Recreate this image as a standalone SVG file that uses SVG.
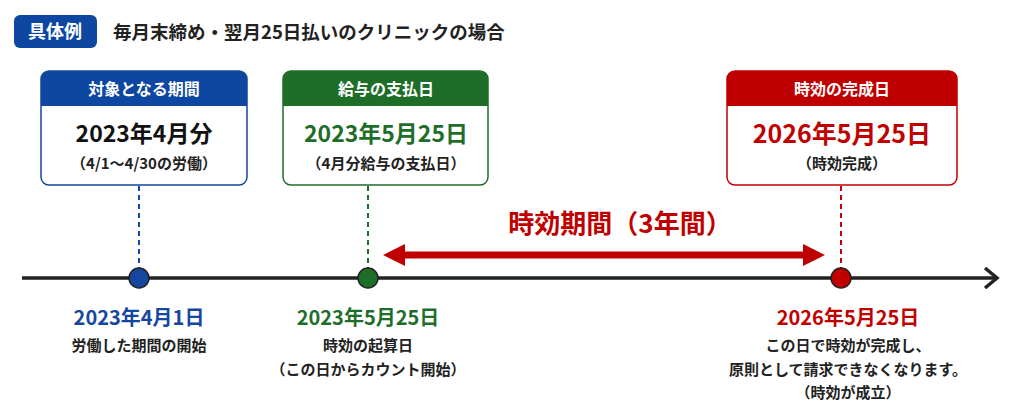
<svg xmlns="http://www.w3.org/2000/svg" width="1024" height="410" viewBox="0 0 1024 410">
<style>
text{font-family:"Noto Sans CJK JP","Noto Sans",sans-serif;text-anchor:middle}
.hd{fill:#fff;font-size:16px;font-weight:700}
.big{font-size:23px;font-weight:700}
.sm{font-size:15px;font-weight:700;fill:#222}
.dt{font-size:20px;font-weight:700}
.dash{stroke-width:2;stroke-dasharray:5,4}
</style>
<defs>
<marker id="ah" viewBox="0 0 10 10" refX="6" refY="5" markerWidth="3.2" markerHeight="3.2" orient="auto-start-reverse"><path d="M0,0L10,5L0,10z" fill="#c00000"/></marker>
</defs>
<rect width="1024" height="410" fill="#fff"/>
<g id="title">
<rect x="14" y="15" width="83" height="33" rx="6" fill="#0d47a1"/>
<text x="55" y="38" style="fill:#fff;font-size:18px;font-weight:700">具体例</text>
<text x="113" y="39" style="text-anchor:start;font-size:18.5px;font-weight:700;fill:#222">毎月末締め・翌月25日払いのクリニックの場合</text>
</g>
<g id="connectors">
<line x1="22" y1="278" x2="995" y2="278" stroke="#222" stroke-width="3.5"/>
<path d="M985,268L997,278L985,288" fill="none" stroke="#222" stroke-width="3.5"/>
<line x1="139" y1="186" x2="139" y2="268" stroke="#1546a0" class="dash"/>
<line x1="368" y1="186" x2="368" y2="268" stroke="#1e6e2a" class="dash"/>
<line x1="841" y1="186" x2="841" y2="268" stroke="#c00000" class="dash"/>
<line x1="392" y1="255" x2="816" y2="255" stroke="#c00000" stroke-width="7" marker-start="url(#ah)" marker-end="url(#ah)"/>
<text x="620" y="233" style="fill:#c00000;font-size:26px;font-weight:700">時効期間（3年間）</text>
</g>
<g id="n1">
<rect x="41" y="71" width="206" height="114" rx="8" fill="#fff" stroke="#1546a0" stroke-width="1.5"/>
<path d="M41,106V79a8,8 0 0 1 8-8H239a8,8 0 0 1 8,8V106z" fill="#0d47a1"/>
<text x="144" y="95" class="hd">対象となる期間</text>
<text x="144" y="142" class="big" fill="#111">2023年4月分</text>
<text x="144" y="169" class="sm">（4/1〜4/30の労働）</text>
<circle cx="139" cy="278" r="10" fill="#1546a0" stroke="#222" stroke-width="1.5"/>
<text x="139" y="325" class="dt" fill="#1546a0">2023年4月1日</text>
<text x="139" y="351" class="sm">労働した期間の開始</text>
</g>
<g id="n2">
<rect x="283" y="71" width="205" height="114" rx="8" fill="#fff" stroke="#1e6e2a" stroke-width="1.5"/>
<path d="M283,106V79a8,8 0 0 1 8-8H480a8,8 0 0 1 8,8V106z" fill="#1e6e2a"/>
<text x="386" y="95" class="hd">給与の支払日</text>
<text x="386" y="142" class="big" fill="#1e6e2a">2023年5月25日</text>
<text x="386" y="169" class="sm">（4月分給与の支払日）</text>
<circle cx="368" cy="278" r="10" fill="#1e6e2a" stroke="#222" stroke-width="1.5"/>
<text x="368" y="325" class="dt" fill="#1e6e2a">2023年5月25日</text>
<text x="368" y="351" class="sm">時効の起算日</text>
<text x="368" y="375" class="sm">（この日からカウント開始）</text>
</g>
<g id="n3">
<rect x="727" y="71" width="230" height="114" rx="8" fill="#fff" stroke="#c00000" stroke-width="1.5"/>
<path d="M727,106V79a8,8 0 0 1 8-8H949a8,8 0 0 1 8,8V106z" fill="#c00000"/>
<text x="842" y="95" class="hd">時効の完成日</text>
<text x="842" y="143" class="big" fill="#c00000" style="font-size:25px">2026年5月25日</text>
<text x="842" y="169" class="sm">（時効完成）</text>
<circle cx="841" cy="278" r="10" fill="#c00000" stroke="#222" stroke-width="1.5"/>
<text x="848" y="325" class="dt" fill="#c00000">2026年5月25日</text>
<text x="848" y="351" class="sm">この日で時効が完成し、</text>
<text x="848" y="375" class="sm">原則として請求できなくなります。</text>
<text x="848" y="398" class="sm">（時効が成立）</text>
</g>
</svg>
